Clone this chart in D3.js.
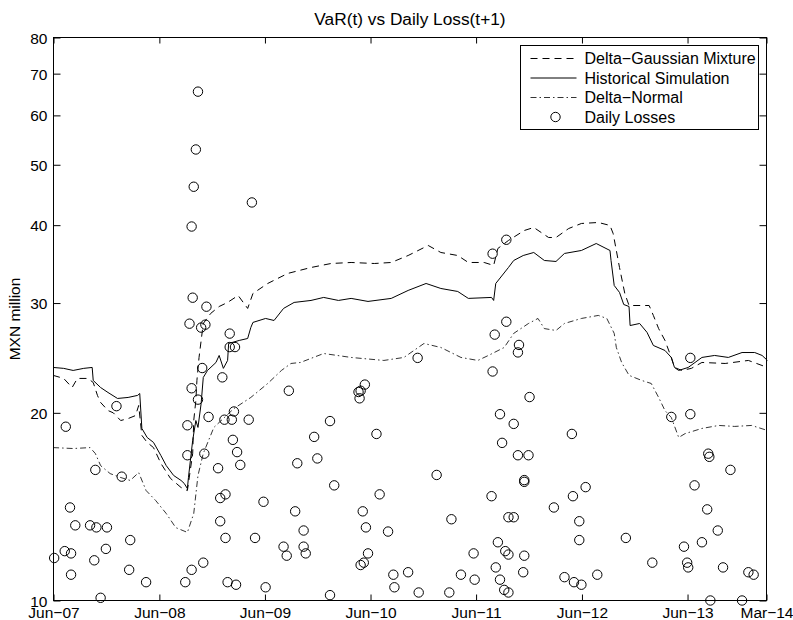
<!DOCTYPE html>
<html>
<head>
<meta charset="utf-8">
<script src="https://d3js.org/d3.v7.min.js"></script>
<style>
  * { margin: 0; padding: 0; }
  body { background: #fff; }
  svg text { font-family: "Liberation Sans", Arial, Helvetica, sans-serif; fill: #000; }
</style>
</head>
<body>
<div id="chart"></div>
<script>
// ---- data (time as decimal years, values in MXN million) ----
const hsTime = [2007.41,2007.51,2007.60,2007.70,2007.78,2007.79,2007.86,2007.93,2008.02,2008.12,
  2008.21,2008.23,2008.25,2008.30,2008.36,2008.43,2008.48,2008.55,2008.62,2008.65,
  2008.68,2008.69,2008.73,2008.76,2008.78,2008.81,2008.83,2008.87,2008.95,2008.98,
  2009.02,2009.06,2009.07,2009.17,2009.25,2009.28,2009.30,2009.42,2009.50,2009.59,
  2009.69,2009.85,2009.97,2010.11,2010.23,2010.39,2010.61,2010.77,2010.94,2011.08,
  2011.24,2011.34,2011.56,2011.58,2011.60,2011.72,2011.77,2011.86,2011.96,2012.06,
  2012.17,2012.25,2012.41,2012.55,2012.68,2012.69,2012.72,2012.77,2012.81,2012.86,
  2012.87,2012.96,2013.03,2013.09,2013.20,2013.26,2013.29,2013.33,2013.42,2013.55,
  2013.67,2013.80,2013.93,2014.05,2014.12,2014.17];
const hsVaR = [23.65,23.57,23.39,23.57,23.65,22.54,21.96,21.56,21.09,21.17,
  21.33,21.48,18.88,18.26,17.93,17.08,16.46,15.87,15.58,15.41,
  15.12,15.75,18.06,19.44,18.95,20.71,22.79,23.39,24.09,24.72,
  23.57,24.27,25.84,26.13,26.32,27.41,27.93,28.34,28.13,29.41,
  30.07,30.29,30.63,30.29,30.52,30.18,30.52,31.43,32.25,31.66,
  31.31,30.52,30.63,30.29,32.25,34.21,35.11,35.76,36.16,35.11,
  34.98,36.03,36.43,37.38,36.43,35.11,32.01,31.20,29.84,29.62,
  27.61,27.82,26.92,25.65,25.18,24.54,23.65,23.39,23.65,24.54,
  24.72,24.54,24.99,24.99,24.72,24.27];

const dgmTime = [2007.41,2007.51,2007.59,2007.64,2007.74,2007.79,2007.83,2007.86,2007.93,2007.98,
  2008.05,2008.12,2008.19,2008.22,2008.25,2008.30,2008.36,2008.43,2008.52,2008.62,
  2008.68,2008.73,2008.74,2008.76,2008.77,2008.79,2008.81,2008.83,2008.90,2008.98,
  2009.06,2009.16,2009.25,2009.30,2009.44,2009.63,2009.85,2010.04,2010.23,2010.45,
  2010.61,2010.77,2010.96,2011.08,2011.24,2011.34,2011.49,2011.58,2011.62,2011.72,
  2011.87,2011.96,2012.10,2012.17,2012.29,2012.41,2012.57,2012.68,2012.71,2012.74,
  2012.77,2012.82,2012.86,2012.98,2013.05,2013.09,2013.14,2013.20,2013.26,2013.29,
  2013.36,2013.45,2013.55,2013.77,2013.99,2014.17];
const dgmVaR = [22.97,22.71,21.96,22.71,22.71,22.37,21.33,20.78,20.17,20.00,
  19.44,19.58,19.80,20.55,18.40,17.93,17.59,16.59,15.70,15.18,
  15.01,17.21,19.44,20.93,22.54,24.54,26.13,27.82,28.87,29.62,
  30.07,30.85,29.41,31.08,32.25,33.47,34.21,34.72,34.85,34.72,
  34.85,35.76,37.11,36.16,35.76,34.85,34.85,34.47,36.70,37.80,
  39.22,39.66,38.22,38.22,39.51,40.25,40.40,39.96,38.78,36.43,
  34.21,31.08,29.73,29.73,29.73,28.66,27.30,26.13,24.54,23.65,
  23.39,23.57,24.09,24.00,24.27,23.65];

const dnTime = [2007.41,2007.60,2007.76,2007.81,2007.86,2007.95,2008.05,2008.14,2008.22,2008.29,
  2008.38,2008.48,2008.57,2008.68,2008.74,2008.78,2008.83,2008.93,2009.12,2009.28,
  2009.44,2009.57,2009.66,2009.75,2009.97,2010.23,2010.54,2010.73,2010.92,2011.08,
  2011.27,2011.43,2011.53,2011.68,2011.77,2011.91,2012.00,2012.06,2012.17,2012.25,
  2012.41,2012.57,2012.65,2012.72,2012.74,2012.79,2012.86,2012.98,2013.07,2013.14,
  2013.20,2013.26,2013.33,2013.39,2013.55,2013.71,2013.86,2014.02,2014.17];
const dnVaR = [17.59,17.53,17.59,17.21,16.46,15.98,15.75,15.58,16.04,15.01,
  14.47,13.79,13.09,12.86,13.79,15.87,17.21,18.95,20.32,21.17,
  22.29,23.39,24.00,24.09,24.90,24.54,24.27,24.54,25.84,25.46,
  24.54,24.27,24.72,25.46,26.82,27.82,28.34,27.30,27.11,27.82,
  28.34,28.66,28.34,26.82,25.46,24.09,22.97,22.54,22.29,21.17,
  20.17,19.66,18.26,18.52,18.88,19.09,19.02,19.09,18.74];

const lossTime = [2008.78,2008.76,2008.74,2009.29,2008.72,2008.73,2008.86,2008.70,2008.85,2008.81,
  2009.08,2009.08,2009.13,2008.82,2009.01,2008.72,2008.78,2008.01,2008.68,2007.53,
  2008.88,2009.03,2009.10,2009.26,2009.12,2009.64,2010.36,2010.30,2010.32,2010.31,
  2009.11,2010.03,2009.15,2008.68,2008.84,2009.88,2010.47,2009.18,2008.97,2009.72,
  2009.91,2007.81,2008.06,2010.07,2010.50,2009.04,2008.99,2009.40,2007.57,2009.70,
  2010.34,2008.99,2007.62,2007.76,2007.82,2007.92,2009.78,2010.37,2010.58,2009.04,
  2009.32,2008.14,2009.59,2009.78,2009.80,2009.62,2007.52,2007.58,2007.91,2010.39,
  2007.42,2007.80,2010.32,2010.35,2008.83,2008.72,2008.13,2007.58,2010.63,2008.66,
  2008.29,2009.06,2009.14,2009.42,2010.64,2007.86,2010.03,2011.70,2011.59,2011.82,
  2011.81,2010.86,2011.57,2011.92,2011.64,2011.77,2012.32,2011.66,2011.81,2011.91,
  2011.87,2011.87,2011.04,2011.56,2012.45,2012.33,2012.15,2011.18,2011.72,2011.77,
  2012.39,2012.39,2012.83,2011.62,2011.69,2011.72,2011.87,2011.39,2010.77,2011.60,
  2011.64,2011.86,2011.27,2011.40,2012.25,2012.34,2012.41,2012.56,2010.87,2011.16,
  2011.68,2011.72,2013.08,2013.38,2013.41,2013.42,2013.55,2013.70,2013.60,2013.48,
  2013.82,2013.61,2013.62,2013.26,2013.44,2013.44,2013.75,2013.99,2014.04,2013.63,
  2013.93,2011.57,2011.70];
const lossValue = [65.5,52.9,46.1,43.5,39.8,30.6,29.6,27.8,27.7,27.4,
  26.8,25.5,25.5,23.6,22.8,21.9,21.0,20.5,19.1,19.0,
  19.7,19.5,19.5,19.5,20.1,21.7,22.2,21.6,21.7,21.1,
  18.1,19.4,17.3,17.1,17.2,18.3,18.5,16.5,16.3,16.6,
  16.9,16.2,15.8,15.3,14.8,14.8,14.6,14.4,14.1,13.9,
  13.9,13.4,13.2,13.2,13.1,13.1,12.95,13.1,12.9,12.6,
  12.6,12.5,12.2,12.2,11.9,11.8,12.0,11.9,12.1,11.9,
  11.7,11.6,11.4,11.5,11.5,11.2,11.2,11.0,11.0,10.7,
  10.7,10.7,10.6,10.5,10.5,10.1,10.2,28.0,26.7,25.7,
  25.0,24.5,23.3,21.2,19.9,19.2,18.5,17.9,17.1,17.1,
  15.6,15.5,15.9,14.7,15.2,14.7,14.1,13.5,13.6,13.6,
  13.4,12.5,12.6,12.4,12.0,11.85,11.8,11.9,11.1,11.3,
  10.8,11.1,11.0,10.8,10.9,10.7,10.6,11.0,10.3,10.3,
  10.4,10.3,11.5,12.2,11.5,11.3,12.4,12.95,14.0,15.3,
  16.2,17.2,17.0,19.7,19.9,24.5,11.3,11.1,11.0,10.0,
  10.0,36.0,37.9];

const yTicks = [10, 20, 30, 40, 50, 60, 70, 80];
const xTickDates = ["2007-06-01","2008-06-01","2009-06-01","2010-06-01","2011-06-01","2012-06-01","2013-06-01","2014-03-01"];
const seriesNames = ["Delta\u2212Gaussian Mixture", "Historical Simulation", "Delta\u2212Normal", "Daily Losses"];

// decimal year -> Date
function toDate(t) {
    let yr = Math.floor(t);
    let a = new Date(yr, 0, 1), b = new Date(yr + 1, 0, 1);
    return new Date(+a + (t - yr) * (b - a));
}
function zip(ts, vs) { return ts.map((t, i) => ({ date: toDate(t), v: vs[i] })); }

let W = 793, H = 620;
let L = 53.5, R = 766.5, T = 37.5, B = 600.5;
let fs = 15.5;

let svg = d3.select("#chart").append("svg")
    .attr("width", W).attr("height", H);

let x = d3.scaleTime()
    .domain([new Date(2007, 5, 1), new Date(2014, 2, 1)])
    .range([L, R]);
let y = d3.scaleLog()
    .domain([10, 80])
    .range([B, T]);

let fmt = d3.timeFormat("%b-%y");
let xTicks = xTickDates.map(s => d3.timeParse("%Y-%m-%d")(s));

// axes (ticks point inward, MATLAB style box)
let gx = svg.append("g").attr("transform", `translate(0,${B})`)
    .call(d3.axisBottom(x).tickValues(xTicks).tickSize(-6).tickPadding(6)
        .tickFormat(d => fmt(d).replace("-", "\u2212")));
let gxTop = svg.append("g").attr("transform", `translate(0,${T})`)
    .call(d3.axisTop(x).tickValues(xTicks).tickSize(-6).tickFormat(""));
let gy = svg.append("g").attr("transform", `translate(${L},0)`)
    .call(d3.axisLeft(y).tickValues(yTicks).tickSize(-7).tickPadding(6).tickFormat(d3.format("d")));
let gyR = svg.append("g").attr("transform", `translate(${R},0)`)
    .call(d3.axisRight(y).tickValues(yTicks).tickSize(-7).tickFormat(""));

[gx, gxTop, gy, gyR].forEach(g => {
    g.select(".domain").remove();
    g.selectAll(".tick line").attr("stroke", "#000").attr("stroke-width", 1);
    g.selectAll(".tick text").attr("font-size", fs).attr("font-family", null);
});
gy.selectAll(".tick text").attr("dy", "0.36em");

svg.append("rect")
    .attr("x", L).attr("y", T).attr("width", R - L).attr("height", B - T)
    .attr("fill", "none").attr("stroke", "#000").attr("stroke-width", 1);

let line = d3.line().x(d => x(d.date)).y(d => y(d.v));

svg.append("path").datum(zip(dgmTime, dgmVaR))
    .attr("d", line).attr("fill", "none").attr("stroke", "#000")
    .attr("stroke-width", 1).attr("stroke-dasharray", "7,5");
svg.append("path").datum(zip(hsTime, hsVaR))
    .attr("d", line).attr("fill", "none").attr("stroke", "#000")
    .attr("stroke-width", 1);
svg.append("path").datum(zip(dnTime, dnVaR))
    .attr("d", line).attr("fill", "none").attr("stroke", "#000")
    .attr("stroke-width", 0.8).attr("stroke-dasharray", "6,3,1.5,3");

svg.selectAll("circle.loss")
    .data(zip(lossTime, lossValue))
    .enter()
    .append("circle")
    .attr("class", "loss")
    .attr("cx", d => x(d.date))
    .attr("cy", d => y(d.v))
    .attr("r", 4.7)
    .attr("fill", "none")
    .attr("stroke", "#000")
    .attr("stroke-width", 1);

// title & label
svg.append("text").attr("x", (L + R) / 2).attr("y", 25)
    .attr("text-anchor", "middle").attr("font-size", 17.3)
    .text("VaR(t) vs Daily Loss(t+1)");
svg.append("text")
    .attr("transform", `translate(20,${(T + B) / 2}) rotate(-90)`)
    .attr("text-anchor", "middle").attr("font-size", fs)
    .text("MXN million");

// legend
let lg = svg.append("g").attr("transform", "translate(520.5,45.5)");
lg.append("rect").attr("width", 238).attr("height", 84)
    .attr("fill", "#fff").attr("stroke", "#000").attr("stroke-width", 1);
let styles = [
    { dash: "7,5", w: 1 },
    { dash: null, w: 1 },
    { dash: "6,3,1.5,3", w: 0.8 },
    null
];
seriesNames.forEach((name, i) => {
    let cy = 13 + i * 19.5;
    if (styles[i]) {
        lg.append("line").attr("x1", 10).attr("x2", 56).attr("y1", cy).attr("y2", cy)
            .attr("stroke", "#000").attr("stroke-width", styles[i].w)
            .attr("stroke-dasharray", styles[i].dash);
    } else {
        lg.append("circle").attr("cx", 35).attr("cy", cy).attr("r", 4.7)
            .attr("fill", "none").attr("stroke", "#000");
    }
    lg.append("text").attr("x", 64).attr("y", cy + 5.5).attr("font-size", 16).text(name);
});
</script>
</body>
</html>
